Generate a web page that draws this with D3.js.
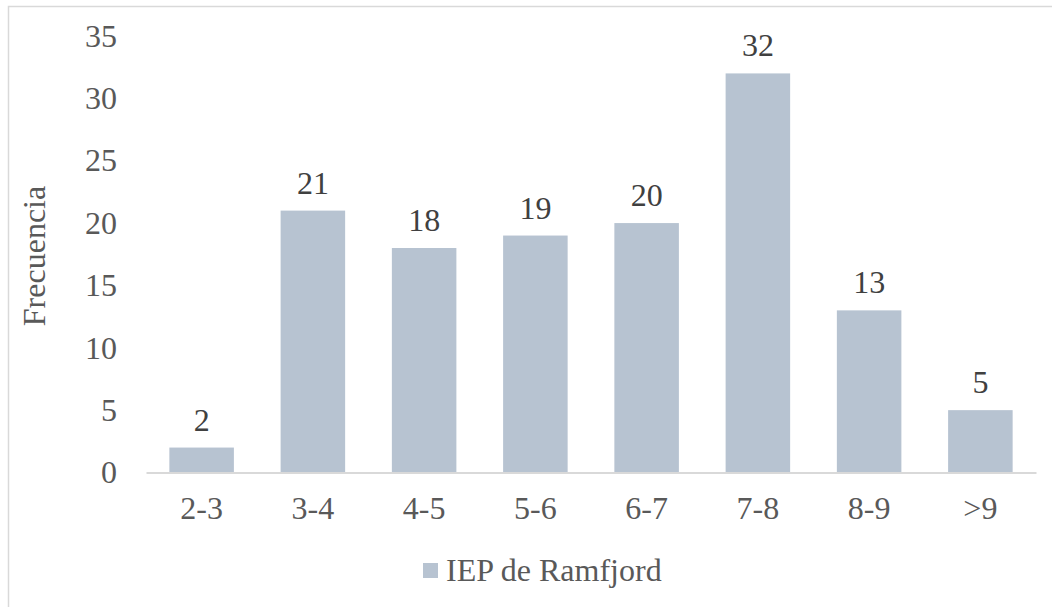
<!DOCTYPE html>
<html><head><meta charset="utf-8">
<script src="https://cdn.jsdelivr.net/npm/d3@7"></script>
<style>body{margin:0;background:#fff}svg{display:block}</style>
</head><body>
<svg id="c" width="1052" height="607"></svg>
<script>
const categories = ["2-3","3-4","4-5","5-6","6-7","7-8","8-9",">9"];
const values = [2,21,18,19,20,32,13,5];
const yTicks = [0,5,10,15,20,25,30,35];
const seriesName = "IEP de Ramfjord";
const yTitle = "Frecuencia";

const FONT = "'Liberation Serif', 'Times New Roman', 'DejaVu Serif', serif";
const FS = 32;
const svg = d3.select("#c");
svg.append("rect").attr("x",8.5).attr("y",6.5).attr("width",1100).attr("height",700)
  .attr("fill","#fff").attr("stroke","#d9d9d9").attr("stroke-width",1.5);

const pLeft=146, pRight=1036, pTop=36, pBottom=472.5;
const x = d3.scaleBand().domain(categories).range([pLeft,pRight]).paddingInner(0.42).paddingOuter(0.21);
const y = d3.scaleLinear().domain([0,35]).range([pBottom,pTop]);

const barColor="#b7c3d1";
svg.selectAll("rect.bar").data(values).join("rect").attr("class","bar")
  .attr("x",(d,i)=>x(categories[i])).attr("width",x.bandwidth())
  .attr("y",d=>y(d)).attr("height",d=>y(0)-y(d)).attr("fill",barColor);

const xAxis = svg.append("g").attr("transform",`translate(0,${pBottom})`).call(d3.axisBottom(x).tickSize(0).tickPadding(24));
xAxis.attr("font-family",FONT).attr("font-size",FS);
xAxis.select(".domain").attr("stroke","#d9d9d9").attr("stroke-width",2);
xAxis.selectAll("text").style("font-family",FONT).style("font-size",FS+"px").attr("fill","#595959");

const yAxis = svg.append("g").attr("transform",`translate(${pLeft},0)`).call(d3.axisLeft(y).tickValues(yTicks).tickSize(0).tickPadding(29));
yAxis.attr("font-family",FONT).attr("font-size",FS);
yAxis.select(".domain").remove();
yAxis.selectAll("text").style("font-family",FONT).style("font-size",FS+"px").attr("fill","#595959");

svg.selectAll("text.lbl").data(values).join("text").attr("class","lbl")
  .attr("x",(d,i)=>x(categories[i])+x.bandwidth()/2).attr("y",d=>y(d)-17)
  .attr("text-anchor","middle").style("font-family",FONT).style("font-size",FS+"px").attr("fill","#404040").text(d=>d);

svg.append("text").attr("transform","translate(45,256) rotate(-90)").attr("text-anchor","middle")
  .style("font-family",FONT).style("font-size",FS+"px").attr("fill","#595959").text(yTitle);

const lg = svg.append("g");
lg.append("rect").attr("x",423).attr("y",563).attr("width",15).attr("height",15).attr("fill",barColor);
lg.append("text").attr("x",446).attr("y",581).style("font-family",FONT).style("font-size",FS+"px").attr("fill","#595959").text(seriesName);
</script>
</body></html>
